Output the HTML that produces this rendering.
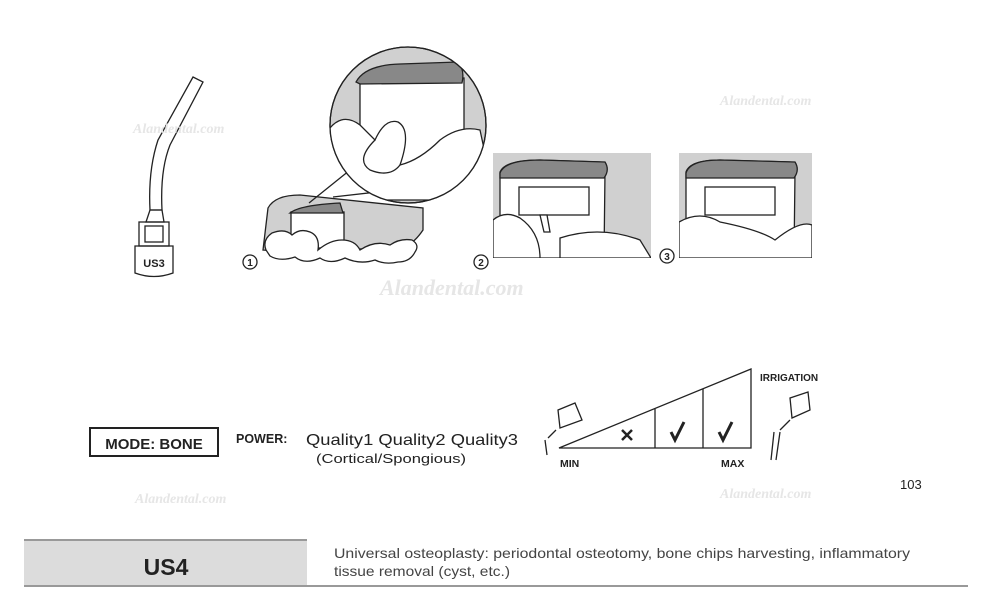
<!DOCTYPE html>
<html><head><style>
body{margin:0;background:#fff;width:1000px;height:608px;overflow:hidden;font-family:"Liberation Sans",sans-serif}
svg{position:absolute;left:0;top:0}
</style></head><body>
<svg width="1000" height="608" viewBox="0 0 1000 608" font-family="Liberation Sans, sans-serif">
<defs><clipPath id="cc"><circle cx="408" cy="125" r="78"/></clipPath>
<clipPath id="p2"><rect x="493" y="153" width="158" height="105"/></clipPath>
<clipPath id="p3"><rect x="679" y="153" width="133" height="105"/></clipPath></defs>
<g fill="none" stroke="#222" stroke-width="1.3">
<!-- tip US3 -->
<path d="M193 77 L203 82 L170 145 Q160 170 162 210 L150 210 Q148 170 158 140 Z" fill="#fff"/>
<path d="M150 210 L162 210 L164 222 L146 222 Z"/>
<rect x="139" y="222" width="30" height="24"/>
<rect x="145" y="226" width="18" height="16"/>
<path d="M135 246 L173 246 L173 273 Q154 280 135 273 Z"/>
<text x="154" y="267" font-size="11" font-weight="bold" fill="#222" stroke="none" text-anchor="middle">US3</text>
<!-- jaw 1 -->
<path d="M268 208 Q275 195 300 195 L423 208 L423 230 Q415 242 405 247 L290 252 L263 250 Z" fill="#d0d0d0"/>
<rect x="291" y="212" width="53" height="36" fill="#fff"/>
<path d="M290 213 Q300 205 340 203 L343 213 Z" fill="#888"/>
<path d="M266 250 Q262 240 272 233 Q285 228 292 235 Q300 228 310 232 Q320 236 318 250 Q330 240 342 240 Q355 240 360 250 Q375 240 390 245 Q400 238 412 240 Q420 245 415 252 Q410 262 398 262 Q385 265 375 260 Q360 265 345 258 Q330 265 320 258 Q305 265 295 257 Q280 262 270 256 Z" fill="#fff"/>
<line x1="309" y1="203" x2="355" y2="166"/>
<line x1="333" y1="197" x2="430" y2="186"/>
<!-- circle -->
<circle cx="408" cy="125" r="78" fill="#d0d0d0"/>
<g clip-path="url(#cc)">
<rect x="360" y="78" width="104" height="120" fill="#fff"/>
<path d="M356 82 Q365 65 400 64 L458 62 Q465 70 462 83 L360 84 Z" fill="#888"/>
<path d="M325 135 Q340 110 360 125 L375 140 Q385 118 398 122 Q412 130 400 165 Q420 160 440 140 Q460 125 480 130 L495 200 L325 200 Z" fill="#fff"/>
<path d="M375 140 Q355 160 370 170 Q390 178 400 165"/>
</g>
<circle cx="408" cy="125" r="78"/>
<!-- panel 2 -->
<rect x="493" y="153" width="158" height="105" fill="#d0d0d0" stroke="none"/>
<g clip-path="url(#p2)">
<path d="M500 172 Q505 160 540 160 L600 162 L605 172 L604 258 L500 258 Z" fill="#fff"/>
<path d="M500 173 Q505 160 540 160 L605 162 Q610 170 604 178 L500 178 Z" fill="#888"/>
<rect x="519" y="187" width="70" height="28" fill="none"/>
<path d="M493 220 Q505 210 520 218 Q540 232 540 258 L493 258 Z" fill="#fff"/>
<path d="M560 238 Q600 225 640 240 L651 258 L560 258 Z" fill="#fff"/>
<path d="M540 215 L547 215 L550 232 L544 232 Z" fill="#fff"/>
</g>
<!-- panel 3 -->
<rect x="679" y="153" width="133" height="105" fill="#d0d0d0" stroke="none"/>
<g clip-path="url(#p3)">
<path d="M686 172 Q690 160 720 160 L790 162 L795 172 L794 258 L686 258 Z" fill="#fff"/>
<path d="M686 173 Q690 160 720 160 L795 162 Q800 170 794 178 L686 178 Z" fill="#888"/>
<rect x="705" y="187" width="70" height="28"/>
<path d="M679 222 Q700 210 720 222 Q760 230 775 240 Q800 220 812 225 L812 258 L679 258 Z" fill="#fff"/>
</g>
<circle cx="250" cy="262" r="7"/><circle cx="481" cy="262" r="7"/><circle cx="667" cy="256" r="7"/>
<!-- chart -->
<path d="M559 448 L751 448 L751 369 Z"/>
<line x1="655" y1="409" x2="655" y2="448"/><line x1="703" y1="389" x2="703" y2="448"/>
<path d="M622 430 L632 440 M632 430 L622 440" stroke-width="2.5"/>
<path d="M671 432 L675 440 L684 422" stroke-width="3"/>
<path d="M719 432 L723 440 L732 422" stroke-width="3"/>
<path d="M558 410 L575 403 L582 420 L560 428 Z M548 438 L556 430 M545 440 L547 455"/>
<path d="M790 398 L808 392 L810 410 L792 418 Z M780 430 L790 420 M774 432 L771 460 M780 432 L776 460"/>
<rect x="90" y="428" width="128" height="28" stroke-width="2"/>
<!-- bottom -->
<rect x="24" y="541" width="283" height="45" fill="#dcdcdc" stroke="none"/>
<line x1="24" y1="540" x2="307" y2="540" stroke="#999" stroke-width="2"/>
<line x1="24" y1="586" x2="968" y2="586" stroke="#999" stroke-width="2"/>
</g>
<g fill="#222" stroke="none">
<text x="250" y="266" font-size="10" text-anchor="middle" font-weight="bold">1</text>
<text x="481" y="266" font-size="10" text-anchor="middle" font-weight="bold">2</text>
<text x="667" y="260" font-size="10" text-anchor="middle" font-weight="bold">3</text>
<text x="154" y="449" font-size="15" font-weight="bold" text-anchor="middle">MODE: BONE</text>
<text x="236" y="443" font-size="12.5" font-weight="bold">POWER:</text>
<text x="306" y="445" font-size="16" textLength="212" lengthAdjust="spacingAndGlyphs">Quality1 Quality2 Quality3</text>
<text x="316" y="463" font-size="13" textLength="150" lengthAdjust="spacingAndGlyphs">(Cortical/Spongious)</text>
<text x="760" y="381" font-size="10" font-weight="bold">IRRIGATION</text>
<text x="560" y="467" font-size="10.5" font-weight="bold">MIN</text>
<text x="721" y="467" font-size="10.5" font-weight="bold">MAX</text>
<text x="900" y="489" font-size="13">103</text>
<text x="166" y="575" font-size="23" font-weight="bold" text-anchor="middle">US4</text>
<text x="334" y="558" font-size="14" fill="#444" textLength="576" lengthAdjust="spacingAndGlyphs">Universal osteoplasty: periodontal osteotomy, bone chips harvesting, inflammatory</text>
<text x="334" y="576" font-size="14" fill="#444" textLength="176" lengthAdjust="spacingAndGlyphs">tissue removal (cyst, etc.)</text>
</g>
<g fill="#e6e6e6" font-family="Liberation Serif, serif" font-style="italic" font-weight="bold">
<text x="133" y="133" font-size="14">Alandental.com</text>
<text x="720" y="105" font-size="14">Alandental.com</text>
<text x="380" y="295" font-size="22">Alandental.com</text>
<text x="135" y="503" font-size="14">Alandental.com</text>
<text x="720" y="498" font-size="14">Alandental.com</text>
</g>
</svg>
</body></html>
